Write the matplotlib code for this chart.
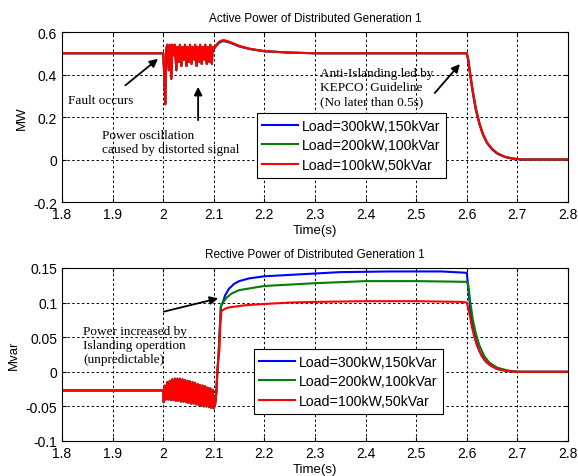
import matplotlib
matplotlib.use("Agg")
import matplotlib.pyplot as plt
import numpy as np

# ---- data ----
labels = ['Load=300kW,150kVar', 'Load=200kW,100kVar', 'Load=100kW,50kVar']
colors = ['#0000ff', '#008000', '#ff0000']

# active power, shared part before islanding (fault + oscillation)
t_p_fault = [1.8, 2.0, 2.002, 2.004, 2.006, 2.008, 2.011, 2.013, 2.016, 2.018, 2.021,
             2.023, 2.026, 2.028, 2.031, 2.033, 2.036, 2.038, 2.041, 2.043, 2.046,
             2.048, 2.051, 2.053, 2.056, 2.058, 2.061, 2.063, 2.066, 2.068, 2.071,
             2.073, 2.076, 2.078, 2.081, 2.083, 2.086, 2.088, 2.091, 2.093, 2.096,
             2.098, 2.100]
p_fault = [0.5, 0.5, 0.40, 0.26, 0.52, 0.54, 0.42, 0.54, 0.38, 0.54, 0.49,
           0.54, 0.42, 0.53, 0.46, 0.54, 0.44, 0.53, 0.47, 0.54, 0.44,
           0.53, 0.46, 0.54, 0.45, 0.53, 0.47, 0.54, 0.44, 0.53, 0.46,
           0.54, 0.45, 0.53, 0.47, 0.54, 0.45, 0.53, 0.46, 0.54, 0.45,
           0.53, 0.52]

t_p_after = [2.105, 2.11, 2.115, 2.12, 2.13, 2.14, 2.15, 2.17, 2.2, 2.25, 2.3, 2.6,
             2.603, 2.607, 2.612, 2.618, 2.625, 2.632, 2.64, 2.65, 2.66, 2.675,
             2.69, 2.71, 2.8]
p_after_blue = [0.535, 0.548, 0.555, 0.557, 0.551, 0.542, 0.532, 0.52, 0.509, 0.503, 0.5, 0.5,
                0.46, 0.39, 0.31, 0.23, 0.165, 0.115, 0.077, 0.047, 0.028, 0.012,
                0.004, 0.0, 0.0]
p_after_green = [0.537, 0.55, 0.557, 0.56, 0.553, 0.544, 0.534, 0.521, 0.51, 0.503, 0.5, 0.5,
                 0.47, 0.40, 0.32, 0.24, 0.17, 0.12, 0.08, 0.05, 0.03, 0.013,
                 0.005, 0.0, 0.0]
p_after_red = [0.54, 0.553, 0.56, 0.562, 0.555, 0.545, 0.535, 0.522, 0.51, 0.503, 0.5, 0.5,
               0.47, 0.40, 0.32, 0.24, 0.17, 0.12, 0.08, 0.05, 0.03, 0.013,
               0.005, 0.0, 0.0]

# reactive power, shared part before islanding
t_q_fault = [1.8, 2.0, 2.001, 2.003, 2.005, 2.008, 2.010, 2.013, 2.015, 2.018, 2.020,
             2.023, 2.025, 2.028, 2.030, 2.033, 2.035, 2.038, 2.040, 2.043, 2.045,
             2.048, 2.050, 2.053, 2.055, 2.058, 2.060, 2.063, 2.065, 2.068, 2.070,
             2.073, 2.075, 2.078, 2.080, 2.083, 2.085, 2.088, 2.090, 2.093, 2.095,
             2.098, 2.100, 2.103, 2.105]
q_fault = [-0.027, -0.027, -0.044, -0.020, -0.040, -0.015, -0.040, -0.013, -0.041, -0.011, -0.041,
           -0.010, -0.042, -0.010, -0.042, -0.010, -0.043, -0.011, -0.043, -0.012, -0.044,
           -0.013, -0.045, -0.014, -0.046, -0.015, -0.046, -0.016, -0.047, -0.018, -0.048,
           -0.019, -0.049, -0.020, -0.050, -0.021, -0.050, -0.023, -0.051, -0.024, -0.052,
           -0.026, -0.053, -0.045, -0.030]

t_q_blue = [2.107, 2.109, 2.111, 2.114, 2.118, 2.122, 2.13, 2.14, 2.15, 2.17, 2.2, 2.25,
            2.3, 2.35, 2.45, 2.55, 2.6, 2.603, 2.607, 2.612, 2.618, 2.625, 2.635,
            2.645, 2.66, 2.68, 2.7, 2.8]
q_blue = [0.0, 0.02, 0.05, 0.095, 0.1, 0.11, 0.12, 0.127, 0.131, 0.135, 0.138, 0.14,
          0.142, 0.144, 0.145, 0.145, 0.143, 0.12, 0.09, 0.065, 0.045, 0.03, 0.017,
          0.01, 0.004, 0.001, 0.0, 0.0]
t_q_green = [2.107, 2.109, 2.111, 2.114, 2.118, 2.125, 2.135, 2.15, 2.2, 2.25, 2.3, 2.4,
             2.5, 2.6, 2.603, 2.607, 2.612, 2.618, 2.625, 2.635, 2.645, 2.66, 2.68,
             2.7, 2.8]
q_green = [0.0, 0.02, 0.05, 0.095, 0.1, 0.107, 0.113, 0.118, 0.124, 0.126, 0.128, 0.131,
           0.131, 0.13, 0.125, 0.1, 0.075, 0.055, 0.038, 0.022, 0.013, 0.006, 0.002,
           0.0, 0.0]
t_q_red = [2.107, 2.109, 2.111, 2.113, 2.115, 2.12, 2.125, 2.13, 2.14, 2.16, 2.2, 2.25,
           2.3, 2.4, 2.5, 2.59, 2.6, 2.605, 2.61, 2.615, 2.62, 2.63, 2.64, 2.65,
           2.66, 2.68, 2.7, 2.8]
q_red = [0.0, 0.02, 0.03, 0.07, 0.088, 0.09, 0.092, 0.093, 0.094, 0.096, 0.098, 0.1,
         0.101, 0.102, 0.102, 0.101, 0.1, 0.085, 0.065, 0.05, 0.038, 0.022, 0.013, 0.008,
         0.004, 0.001, 0.0, 0.0]

x_ticks = [1.8, 1.9, 2.0, 2.1, 2.2, 2.3, 2.4, 2.5, 2.6, 2.7, 2.8]
x_ticklabels = ['1.8', '1.9', '2', '2.1', '2.2', '2.3', '2.4', '2.5', '2.6', '2.7', '2.8']
p_ticks = [-0.2, 0, 0.2, 0.4, 0.6]
p_ticklabels = ['-0.2', '0', '0.2', '0.4', '0.6']
q_ticks = [-0.1, -0.05, 0, 0.05, 0.1, 0.15]
q_ticklabels = ['-0.1', '-0.05', '0', '0.05', '0.1', '0.15']

plt.rcParams['font.family'] = ['Liberation Sans', 'DejaVu Sans']
serif = 'Liberation Serif'

fig = plt.figure(figsize=(5.78, 4.77), dpi=100)
ax1 = fig.add_axes([0.1073, 0.5744, 0.8754, 0.3564])
ax2 = fig.add_axes([0.1073, 0.0734, 0.8754, 0.3627])


def style_axes(ax, yticks, yticklabels, ylim, title, ylabel):
    ax.set_xlim(1.8, 2.8)
    ax.set_ylim(*ylim)
    ax.set_xticks(x_ticks)
    ax.set_xticklabels(x_ticklabels)
    ax.set_yticks(yticks)
    ax.set_yticklabels(yticklabels)
    ax.grid(True, color='black', linestyle=(0, (2.5, 2.5)), linewidth=0.7)
    ax.tick_params(direction='in', top=True, right=True, labelsize=10, length=3)
    ax.set_title(title, fontsize=8.5, pad=8)
    ax.set_xlabel('Time(s)', fontsize=9.5, labelpad=2)
    ax.set_ylabel(ylabel, fontsize=9.5)
    for s in ax.spines.values():
        s.set_linewidth(0.8)


def add_legend(ax, anchor):
    leg = ax.legend(loc='upper left', bbox_to_anchor=anchor, fontsize=10.2,
                    fancybox=False, edgecolor='black', framealpha=1, handlelength=2.5,
                    labelspacing=0.4, borderpad=0.4, handletextpad=0.3,
                    borderaxespad=0)
    leg.get_frame().set_linewidth(0.8)


# ---- active power ----
t_p = t_p_fault + t_p_after
for vals, c, lab in zip([p_after_blue, p_after_green, p_after_red], colors, labels):
    ax1.plot(t_p, p_fault + vals, color=c, lw=1.5, label=lab)
style_axes(ax1, p_ticks, p_ticklabels, (-0.2, 0.6),
           'Active Power of Distributed Generation 1', 'MW')
add_legend(ax1, (0.385, 0.5235))

arrow = dict(arrowstyle='-|>', color='black', lw=1.3, mutation_scale=12)
ax1.text(1.812, 0.28, 'Fault occurs', family=serif, fontsize=9.5, va='center')
ax1.annotate('', xy=(1.994, 0.482), xytext=(1.921, 0.341), arrowprops=arrow)
ax1.text(1.879, 0.082, 'Power oscillation\ncaused by distorted signal',
         family=serif, fontsize=9.5, va='center', linespacing=1.2)
ax1.annotate('', xy=(2.069, 0.355), xytext=(2.069, 0.172), arrowprops=arrow)
ax1.text(2.31, 0.341, 'Anti-Islanding led by\nKEPCO  Guideline\n(No later than 0.5s)',
         family=serif, fontsize=9.5, va='center', linespacing=1.2)
ax1.annotate('', xy=(2.590, 0.459), xytext=(2.533, 0.303), arrowprops=arrow)

# ---- reactive power ----
for tq, vals, c, lab in zip([t_q_blue, t_q_green, t_q_red], [q_blue, q_green, q_red],
                            colors, labels):
    ax2.plot(t_q_fault + tq, q_fault + vals, color=c, lw=1.5, label=lab)
style_axes(ax2, q_ticks, q_ticklabels, (-0.1, 0.15),
           'Rective Power of Distributed Generation 1', 'Mvar')
add_legend(ax2, (0.379, 0.532))

ax2.text(1.842, 0.039, 'Power increased by\nIslanding operation\n(unpredictable)',
         family=serif, fontsize=9.5, va='center', linespacing=1.2)
ax2.annotate('', xy=(2.114, 0.107), xytext=(1.996, 0.086), arrowprops=arrow)

fig.savefig('out.png', dpi=100)
